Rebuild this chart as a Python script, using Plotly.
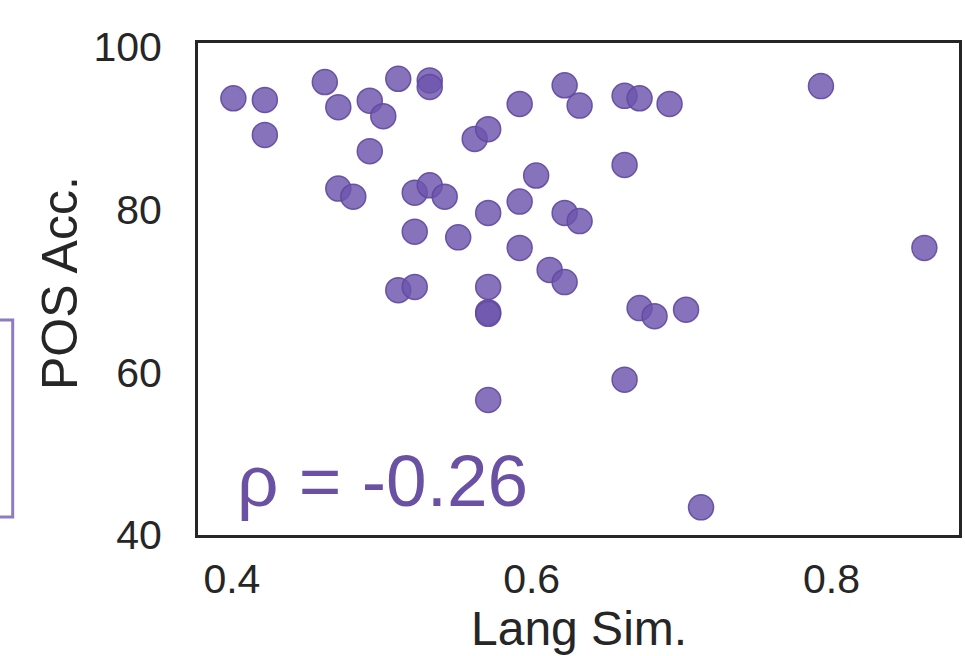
import plotly.graph_objects as go

# Data (Lang Sim. vs POS Acc.)
lang_sim = [0.401, 0.422, 0.422, 0.462, 0.471, 0.492, 0.501, 0.492, 0.511, 0.532,
            0.532, 0.592, 0.622, 0.632, 0.662, 0.672, 0.692, 0.793, 0.562, 0.571,
            0.662, 0.603, 0.592, 0.471, 0.481, 0.522, 0.532, 0.542, 0.571, 0.622,
            0.632, 0.522, 0.551, 0.592, 0.612, 0.622, 0.862, 0.511, 0.522, 0.571,
            0.571, 0.571, 0.672, 0.682, 0.703, 0.662, 0.571, 0.713]
pos_acc = [93.7, 93.5, 89.2, 95.7, 92.6, 93.4, 91.5, 87.2, 96.1, 95.9,
           95.1, 93.0, 95.3, 92.8, 94.0, 93.7, 93.0, 95.2, 88.7, 89.9,
           85.5, 84.2, 81.0, 82.6, 81.6, 82.1, 83.0, 81.6, 79.6, 79.6,
           78.6, 77.3, 76.6, 75.3, 72.6, 71.1, 75.3, 70.1, 70.5, 70.5,
           67.4, 67.2, 67.9, 66.9, 67.7, 59.1, 56.6, 43.4]
rho_text = "ρ = -0.26"
x_title = "Lang Sim."
y_title = "POS Acc."
x_ticks = [0.4, 0.6, 0.8]
y_ticks = [40, 60, 80, 100]

purple = "rgba(108,84,172,0.82)"
edge = "rgba(96,72,160,0.9)"
font_fam = "Liberation Sans, Arial, sans-serif"
txt = "#262626"

fig = go.Figure()
fig.add_trace(go.Scatter(
    x=lang_sim, y=pos_acc, mode="markers",
    marker=dict(size=25, color=purple, line=dict(color=edge, width=1.5)),
    showlegend=False, hoverinfo="x+y",
))

fig.update_layout(
    width=965, height=656,
    margin=dict(l=198, r=3, t=43, b=121),
    plot_bgcolor="white", paper_bgcolor="white",
    font=dict(family=font_fam, color=txt),
    xaxis=dict(
        range=[0.3774, 0.8851], tickvals=x_ticks, ticktext=[f"{v:.1f}" for v in x_ticks],
        showgrid=False, zeroline=False, showline=True, mirror=True,
        linecolor=txt, linewidth=3, ticks="", ticklabelstandoff=6,
        tickfont=dict(size=41, family=font_fam, color=txt),
    ),
    yaxis=dict(
        range=[40, 100.5], tickvals=y_ticks,
        showgrid=False, zeroline=False, showline=True, mirror=True,
        linecolor=txt, linewidth=3, ticks="", ticklabelstandoff=25,
        tickfont=dict(size=41, family=font_fam, color=txt),
    ),
    annotations=[
        dict(text=rho_text, xref="paper", yref="paper", x=0.048, y=0.11,
             xanchor="left", yanchor="middle", showarrow=False,
             font=dict(size=73, family=font_fam, color="#6a51a3")),
        dict(text=x_title, xref="paper", yref="paper", x=0.5, y=-0.19,
             xanchor="center", yanchor="middle", showarrow=False,
             font=dict(size=48, family=font_fam, color=txt)),
        dict(text=y_title, xref="paper", yref="paper", x=-0.182, y=0.513,
             xanchor="center", yanchor="middle", showarrow=False, textangle=-90,
             font=dict(size=50, family=font_fam, color=txt)),
    ],
    shapes=[dict(
        type="rect", xref="paper", yref="paper",
        x0=-0.30, x1=-0.2435, y0=0.0366, y1=0.437,
        line=dict(color="#8e7cc3", width=3), fillcolor="rgba(0,0,0,0)",
    )],
)

fig.write_html("out.html")
